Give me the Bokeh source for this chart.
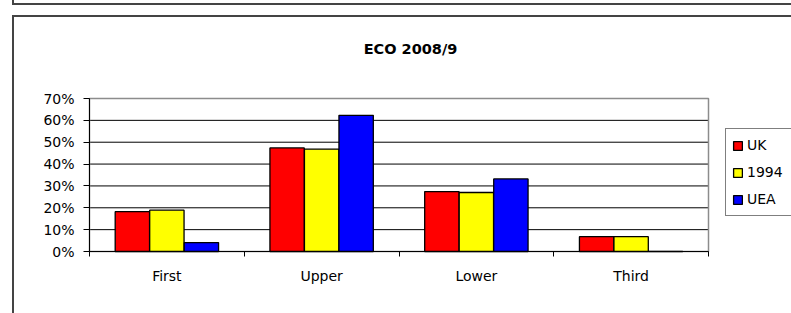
from bokeh.plotting import figure
from bokeh.models import (ColumnDataSource, Range1d, LinearAxis, Label,
                          FixedTicker, NumeralTickFormatter, Legend, LegendItem,
                          InlineStyleSheet)
from bokeh.transform import dodge
from bokeh.embed import file_html
from bokeh.resources import INLINE

# ---- data ----
categories = ["First", "Upper", "Lower", "Third"]
uk = [0.182, 0.474, 0.274, 0.068]
y1994 = [0.189, 0.468, 0.270, 0.068]
uea = [0.041, 0.623, 0.332, 0.0]
series_names = ["UK", "1994", "UEA"]
series_colors = ["#FF0000", "#FFFF00", "#0000FF"]
y_ticks = [0, 0.1, 0.2, 0.3, 0.4, 0.5, 0.6, 0.7]
title_text = "ECO 2008/9"

FONT = "DejaVu Sans"

# ---- layout (pixels) ----
W, H = 791, 313
PL, PR, PT, PB = 89, 708, 98, 251   # plot area edges on the canvas

n = len(categories)
ymax = y_ticks[-1]
centers = [i + 0.5 for i in range(n)]
edges = list(range(n + 1))

ux = (PR - PL) / n
uy = (PB - PT) / ymax
x_range = Range1d(-PL / ux, n + (W - PR) / ux)
y_range = Range1d(-(H - PB) / uy, ymax + PT / uy)

p = figure(width=W, height=H, x_range=x_range, y_range=y_range,
           x_axis_location=None, y_axis_location=None,
           output_backend="svg", toolbar_location=None, min_border=0)
p.background_fill_color = "white"
p.border_fill_color = "white"
p.outline_line_color = None
p.xgrid.visible = False
p.ygrid.visible = False

# gridlines (inner ticks) and plot-area border
grid_y = y_ticks[1:-1]
p.segment(x0=[0] * len(grid_y), x1=[n] * len(grid_y), y0=grid_y, y1=grid_y,
          line_color="black", line_width=1)
p.quad(left=[0], right=[n], bottom=[0], top=[ymax], fill_color=None,
       line_color="#8c8c8c", line_width=1.5)

src = ColumnDataSource(dict(x=centers, cat=categories, uk=uk, y1994=y1994, uea=uea))
offsets = [-0.223, 0.0, 0.223]
fields = ["uk", "y1994", "uea"]
renderers = []
for f, off, col in zip(fields, offsets, series_colors):
    r = p.vbar(x=dodge("x", off), top=f, width=0.222, source=src,
               fill_color=col, line_color="black", line_width=1.3)
    renderers.append(r)

# y axis
yaxis = LinearAxis(fixed_location=0, bounds=(0, ymax),
                   ticker=FixedTicker(ticks=y_ticks),
                   formatter=NumeralTickFormatter(format="0%"),
                   major_tick_out=6, major_tick_in=0, minor_tick_line_color=None,
                   axis_line_color="black", major_tick_line_color="black",
                   major_label_standoff=9, major_label_text_font=FONT,
                   major_label_text_font_size="14px", major_label_text_color="black")
p.add_layout(yaxis, "left")

# x axis line with ticks at category boundaries
tick_axis = LinearAxis(fixed_location=0, bounds=(0, n),
                       ticker=FixedTicker(ticks=edges),
                       major_tick_out=5, major_tick_in=0,
                       minor_tick_line_color=None,
                       major_label_text_font_size="1px", major_label_text_alpha=0,
                       major_label_standoff=0,
                       axis_line_color="black", major_tick_line_color="black")
p.add_layout(tick_axis, "below")

# category labels
cat_axis = LinearAxis(fixed_location=0, ticker=FixedTicker(ticks=centers),
                      major_label_overrides={c: lab for c, lab in zip(centers, categories)},
                      axis_line_color=None, major_tick_line_color=None,
                      minor_tick_line_color=None,
                      major_tick_out=0, major_tick_in=0,
                      major_label_standoff=16,
                      major_label_text_font=FONT,
                      major_label_text_font_size="14px",
                      major_label_text_color="black")
p.add_layout(cat_axis, "below")

legend = Legend(items=[LegendItem(label=nm, renderers=[r]) for nm, r in zip(series_names, renderers)],
                location=(725, 97), orientation="vertical",
                padding=6, spacing=7, label_height=20, label_width=60,
                glyph_height=11, glyph_width=11, label_standoff=4,
                label_text_font=FONT, label_text_font_size="14px", label_text_color="black",
                border_line_color="black", border_line_width=1,
                background_fill_color="white", background_fill_alpha=1, margin=0)
p.add_layout(legend)

p.add_layout(Label(x=410, y=H - 48, x_units="screen", y_units="screen", text=title_text,
                   text_align="center", text_baseline="alphabetic",
                   text_font=FONT, text_font_style="bold", text_font_size="14.5px",
                   text_color="black"))

p.stylesheets = [InlineStyleSheet(css="""
:host { position: relative; }
:host::before { content: ''; position: absolute; left: 12px; top: 0; right: 0; height: 3px;
  border-left: 2px solid #444; border-bottom: 2px solid #444; pointer-events: none; z-index: 100; }
:host::after { content: ''; position: absolute; left: 12px; top: 15px; right: 0; bottom: 0;
  border-left: 2px solid #444; border-top: 2px solid #444; pointer-events: none; z-index: 100; }
""")]

open("out.html", "w").write(file_html(p, INLINE))
